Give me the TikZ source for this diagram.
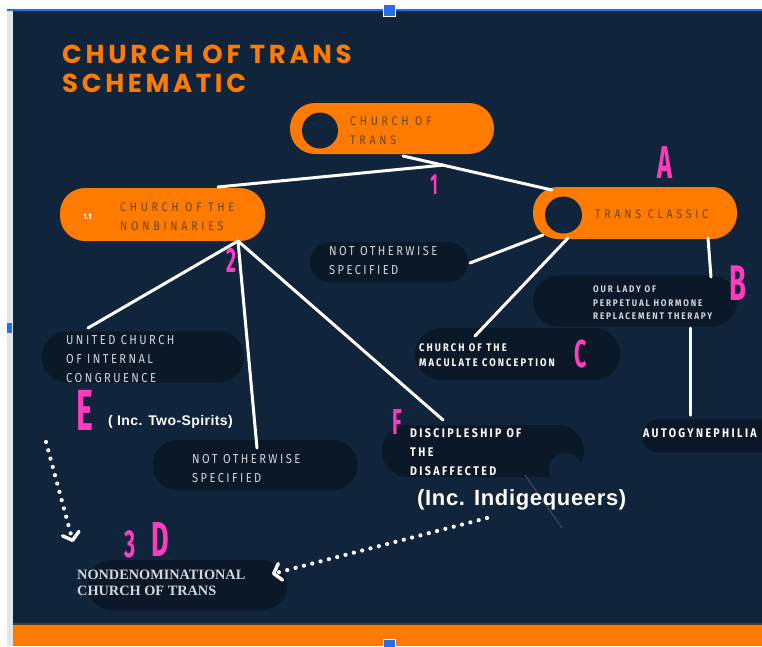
\documentclass[tikz,border=0pt]{standalone}
\usepackage{fontspec}
\setmainfont{Fira Sans}
\newfontfamily\titlefont[LetterSpace=14]{Poppins}
\newfontfamily\boxfont[FakeStretch=0.85,LetterSpace=19]{Fira Sans}
\newfontfamily\pillfont[FakeStretch=0.85,LetterSpace=30]{Fira Sans}
\newfontfamily\pinkfont[FakeStretch=0.55]{Fira Sans}
\newfontfamily\arialfont[LetterSpace=3]{Liberation Sans}
\newfontfamily\seriffont{Liberation Serif}
\usetikzlibrary{calc,arrows.meta}
\definecolor{navy}{RGB}{16,36,59}
\definecolor{boxdark}{RGB}{11,24,40}
\definecolor{orng}{RGB}{255,123,0}
\definecolor{pnk}{RGB}{255,60,190}
\definecolor{txtgray}{RGB}{210,215,222}
\definecolor{brwn}{RGB}{100,70,32}
\definecolor{selblue}{RGB}{38,110,232}
\definecolor{edgegray}{RGB}{226,229,234}
\begin{document}
\begin{tikzpicture}[x=1pt,y=-1pt,
  pill/.style={fill=orng, draw=none, rounded corners=25pt, inner sep=0pt, minimum width=204pt, minimum height=52pt},
  darkbox/.style={fill=boxdark, draw=none, rounded corners=22pt, inner sep=0pt},
  hole/.style={circle, fill=navy, draw=none, inner sep=0pt, minimum size=36pt},
  pilltext/.style={anchor=north west, inner sep=0pt, align=left, text=brwn, font=\pillfont\fontsize{12.5}{19}\selectfont},
  boxtext/.style={anchor=north west, inner sep=0pt, align=left, text=txtgray, font=\boxfont\fontsize{13}{19}\selectfont},
  pinklab/.style={inner sep=0pt, text=pnk},
  conn/.style={draw=white, line width=3pt, line cap=round},
  dotline/.style={draw=white, line width=4.2pt, line cap=round, dash pattern=on 0pt off 8.6pt,
     -{Straight Barb[length=7pt,width=17pt,line width=3.4pt,round]}}
]
\useasboundingbox (0,0) rectangle (762,646);
% frame
\fill[white] (0,0) rectangle (762,646);
\fill[edgegray] (7,10) rectangle (13,646);
\fill[navy] (13,11) rectangle (762,646);
\fill[selblue] (7,9.3) rectangle (762,11);
\fill[orng] (13,624) rectangle (762,646);
\fill[brwn!70!navy] (13,623) rectangle (762,624.5);
\filldraw[fill=selblue, draw=white, line width=1pt] (383,4) rectangle (395,16);
\filldraw[fill=selblue, draw=white, line width=1pt] (383,639) rectangle (395,651);
\fill[selblue] (7,323) rectangle (12,333);

% title
\node[anchor=north west, inner sep=0pt, align=left, text=orng, font=\titlefont\bfseries\fontsize{26}{29}\selectfont] (title) at (62,45) {CHURCH OF TRANS\\SCHEMATIC};

% boxes
\node[pill, minimum width=204pt, minimum height=51pt] (top) at (392,128.5) {};
\node[hole] (tophole) at (320,130.5) {};
\node[pill, minimum width=205pt, minimum height=53pt] (nb) at (162.5,214.5) {};
\node[pill, minimum width=204pt, minimum height=52pt] (tc) at (635,213) {};
\node[hole, minimum size=37pt] (tchole) at (563.5,215) {};

\node[darkbox, minimum width=158pt, minimum height=40pt, rounded corners=20pt] (nos1) at (389,262) {};
\node[darkbox, minimum width=204pt, minimum height=51pt, rounded corners=25pt] (ol) at (635,301) {};
\node[darkbox, minimum width=205pt, minimum height=52pt, rounded corners=26pt] (mac) at (517.5,354) {};
\node[darkbox, minimum width=202pt, minimum height=51pt, rounded corners=25pt] (uc) at (143,357) {};
\node[darkbox, minimum width=205pt, minimum height=50pt, rounded corners=25pt] (nos2) at (255,465) {};
\node[darkbox, minimum width=202pt, minimum height=52pt, rounded corners=26pt] (dis) at (483,451) {};
\node[hole, minimum size=34pt] (dishole) at (566,470) {};
\node[darkbox, minimum width=140pt, minimum height=33pt, rounded corners=16pt] (ag) at (712,436) {};
\node[darkbox, minimum width=200pt, minimum height=50pt, rounded corners=25pt] (nd) at (187,585) {};

% connectors
\coordinate (ts) at ($(top.center)+(11,27.5)$);
\coordinate (te) at ($(tc.center)+(-83,-23)$);
\coordinate (j1) at ($(ts)!0.268!(te)$);
\coordinate (nbj) at ($(nb.center)+(75.5,26.5)$);
\draw[conn] (ts) -- (te);
\draw[conn] ($(nb.center)+(55.5,-27.5)$) -- (j1);
\draw[conn] (nbj) -- ($(uc.center)+(-55,-29)$);
\draw[conn] (nbj) -- ($(nos2.center)+(2,-17)$);
\draw[conn] (nbj) -- ($(dis.center)+(-40,-31)$);
\draw[conn] ($(tc.center)+(-92,22)$) -- ($(nos1.center)+(81,1)$);
\draw[conn] ($(tc.center)+(-67,25)$) -- ($(mac.center)+(-42.5,-18)$);
\draw[conn] ($(tc.center)+(73,25)$) -- ($(ol.center)+(76,-24)$);
\draw[conn] ($(ol.center)+(55,27)$) -- ($(ag.center)+(-22,-21)$);
\draw[gray!60!navy, line width=0.7pt] ($(dis.center)+(42,24)$) -- ($(dis.center)+(79,77)$);

% texts
\node[pilltext] (topt) at (350,117) {CHURCH OF\\TRANS};
\node[pilltext] (nbt) at (120,203) {CHURCH OF THE\\NONBINARIES};
\node[pilltext] (tct) at (595,210) {TRANS CLASSIC};
\node[anchor=north west, inner sep=0pt, text=white, font=\bfseries\fontsize{8}{9}\selectfont] (nbnum) at (83,214) {1.1};
\node[boxtext] (nos1t) at (329,246) {NOT OTHERWISE\\SPECIFIED};
\node[boxtext, font=\boxfont\bfseries\fontsize{9.6}{13.5}\selectfont, text=txtgray] (olt) at (593,285.5) {OUR LADY OF\\PERPETUAL HORMONE\\REPLACEMENT THERAPY};
\node[boxtext, font=\boxfont\bfseries\fontsize{11}{15}\selectfont, text=white] (mact) at (419,343) {CHURCH OF THE\\MACULATE CONCEPTION};
\node[boxtext] (uct) at (66,335) {UNITED CHURCH\\OF INTERNAL\\CONGRUENCE};
\node[boxtext] (nos2t) at (192,454) {NOT OTHERWISE\\SPECIFIED};
\node[boxtext, font=\boxfont\bfseries\fontsize{12.5}{19}\selectfont, text=white] (dist) at (410,428) {DISCIPLESHIP OF\\THE\\DISAFFECTED};
\node[boxtext, font=\boxfont\bfseries\fontsize{12.5}{19}\selectfont, text=white] (agt) at (643,428) {AUTOGYNEPHILIA};
\node[anchor=north west, inner sep=0pt, align=left, text=txtgray, font=\seriffont\bfseries\fontsize{14.3}{16}\selectfont] (ndt) at (77,570) {NONDENOMINATIONAL\\CHURCH OF TRANS};
\node[anchor=north west, inner sep=0pt, text=white, font=\arialfont\bfseries\fontsize{14}{16}\selectfont] (two) at (108,415) {( Inc. Two-Spirits)};
\node[anchor=north west, inner sep=0pt, text=white, font=\arialfont\bfseries\fontsize{22}{26}\selectfont] (indig) at (417,489) {(Inc. Indigequeers)};

% pink labels
\node[pinklab, font=\pinkfont\bfseries\fontsize{29}{30}\selectfont] (l1) at (434,185) {1};
\node[pinklab, font=\pinkfont\bfseries\fontsize{46}{48}\selectfont] (lA) at (665,163) {A};
\node[pinklab, font=\pinkfont\bfseries\fontsize{35}{36}\selectfont] (l2) at (231,260) {2};
\node[pinklab, font=\pinkfont\bfseries\fontsize{50}{52}\selectfont] (lB) at (738,283) {B};
\node[pinklab, font=\pinkfont\bfseries\fontsize{39}{40}\selectfont] (lC) at (581,354) {C};
\node[pinklab, font=\pinkfont\bfseries\fontsize{58}{60}\selectfont] (lE) at (85,410) {E};
\node[pinklab, font=\pinkfont\bfseries\fontsize{36}{38}\selectfont] (lF) at (397,422) {F};
\node[pinklab, font=\pinkfont\bfseries\fontsize{39}{40}\selectfont] (l3) at (130,544) {3};
\node[pinklab, font=\pinkfont\bfseries\fontsize{49}{50}\selectfont] (lD) at (160,540) {D};

% dotted arrows
\coordinate (a1s) at (46,442);
\coordinate (a1e) at (73,542);
\coordinate (a2s) at (487,518);
\coordinate (a2e) at (272,574);
\draw[dotline] (a1s) -- (a1e);
\draw[dotline] (a2s) -- (a2e);
\end{tikzpicture}
\end{document}
